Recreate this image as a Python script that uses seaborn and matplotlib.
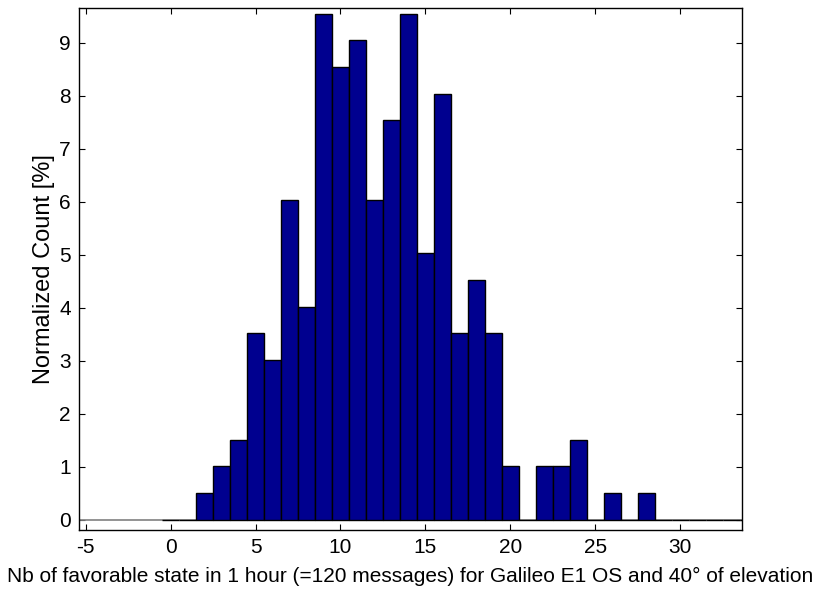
import numpy as np
import pandas as pd
import matplotlib
matplotlib.use('Agg')
import matplotlib.pyplot as plt
import seaborn as sns

# Number of favorable states per hour (bin centres) and normalized count in %
favorable_states = list(range(0, 35))
normalized_pct = [0.0, 0.0, 0.50, 1.01, 1.51, 3.52, 3.02, 6.03, 4.02, 9.55,
                  8.54, 9.05, 6.03, 7.54, 9.55, 5.03, 8.04, 3.52, 4.52, 3.52,
                  1.01, 0.0, 1.01, 1.01, 1.51, 0.0, 0.50, 0.0, 0.50, 0.0,
                  0.0, 0.0, 0.0, 0.0, 0.0]

x_ticks = [-5, 0, 5, 10, 15, 20, 25, 30]
y_ticks = list(range(0, 10))

df = pd.DataFrame({'states': favorable_states, 'pct': normalized_pct})

sns.set_style('ticks')
plt.rcParams['font.family'] = ['Liberation Sans', 'DejaVu Sans']
plt.rcParams['xtick.direction'] = 'in'
plt.rcParams['ytick.direction'] = 'in'
plt.rcParams['text.color'] = 'black'
plt.rcParams['axes.labelcolor'] = 'black'
plt.rcParams['xtick.color'] = 'black'
plt.rcParams['ytick.color'] = 'black'

fig = plt.figure(figsize=(8.16, 5.9), dpi=100)
ax = fig.add_axes([79 / 816, 1 - 530 / 590, (742 - 79) / 816, (530 - 8) / 590])

# MATLAB-like gray baseline
ax.axhline(0, color='#808080', lw=1.2, zorder=1)

sns.histplot(data=df, x='states', weights='pct', discrete=True,
             color='#00008F', alpha=1, edgecolor='black', linewidth=1,
             ax=ax, zorder=2)

ax.set_xlim(-5.39, 33.63)
ax.set_ylim(-0.19, 9.66)
ax.set_xticks(x_ticks)
ax.set_xticklabels([str(t) for t in x_ticks])
ax.set_yticks(y_ticks)
ax.set_yticklabels([str(t) for t in y_ticks])
ax.tick_params(axis='both', which='both', labelsize=15, length=4,
               width=0.8, top=True, right=True)
ax.tick_params(axis='x', pad=6)
ax.tick_params(axis='y', pad=6)
for sp in ax.spines.values():
    sp.set_visible(True)
    sp.set_linewidth(1.0)
    sp.set_color('black')

ax.set_xlabel('Nb of favorable state in 1 hour (=120 messages) for Galileo E1 OS and 40° of elevation',
              fontsize=15, labelpad=7)
ax.set_ylabel('Normalized Count [%]', fontsize=17, labelpad=3)

fig.savefig('out.png', dpi=100)
